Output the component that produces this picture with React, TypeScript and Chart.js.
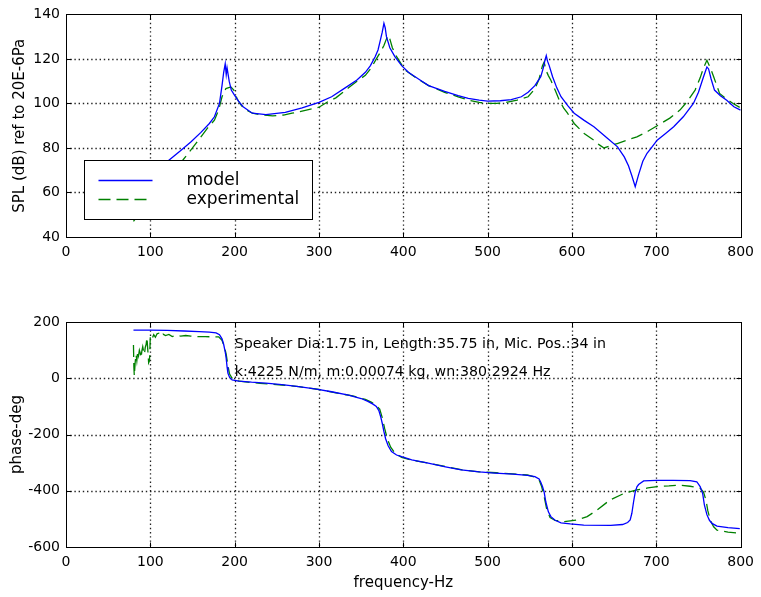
import React, { useEffect, useRef } from "react";
import { Chart, registerables } from "chart.js";

Chart.register(...registerables);

// ---------- data ----------
const xTicks = [0, 100, 200, 300, 400, 500, 600, 700, 800];
const splTicks = [40, 60, 80, 100, 120, 140];
const phaseTicks = [-600, -400, -200, 0, 200];

const modelSplFreq = [80, 90, 100, 110, 122, 135, 148, 160, 170, 176, 182, 185, 187, 188.8, 190, 191, 193.5, 196, 199.4, 204.5, 210, 221, 237, 260, 280, 300, 315, 331, 345, 355, 361, 366.6, 370, 372.5, 375, 377, 378.5, 380, 384, 390, 398, 406, 418, 430, 449, 465, 477, 490, 500, 515, 528, 540, 548, 556, 563, 566, 568, 569.5, 571, 573, 577, 582, 587, 595, 602.6, 614, 626, 642, 654, 662, 667, 671, 675, 679, 684, 689, 695, 701, 711, 720.6, 732, 744, 750, 756, 760, 762, 765, 769, 776, 783.5, 792, 800];
const modelSpl = [58, 62, 66, 70, 74.5, 78.5, 82.7, 87, 91, 94, 100, 108, 114, 117.8, 113, 116, 110, 106, 104, 101, 98.5, 95.6, 95, 96, 98, 100.5, 103, 107, 110.5, 114, 117, 121, 124, 128, 132, 136, 134, 130, 125, 121, 117, 114, 111, 108, 105.4, 103.5, 102.3, 101.5, 101, 101.2, 101.7, 103, 105, 108, 112, 116, 119.5, 121.5, 119, 117, 112, 107, 103, 99, 95.6, 92.5, 89.5, 84.4, 80.5, 76, 72, 67.5, 62.6, 68, 74, 77.6, 80.5, 83.5, 86.5, 89.5, 94, 100, 105, 112, 116.4, 115.5, 111, 106, 103.5, 101.4, 98.5, 97];

const expSplFreq = [80, 90, 100, 110, 122, 138.4, 150, 160, 168, 176, 181, 185, 189.6, 195.5, 199, 203, 208, 214, 221, 233, 245, 258, 268, 285, 300, 311.5, 320, 335, 345, 355, 362, 368, 372, 377, 380, 382, 384, 387, 392, 402, 415, 430, 449, 465, 477, 490, 500, 510, 520, 535, 548, 556, 561, 565, 567, 569, 572, 575, 580, 585, 590, 594.7, 602.6, 614, 626, 632, 638, 644, 653.7, 665, 677, 690, 701, 716, 728, 737, 746, 752, 756, 760, 764, 768, 775, 783, 791, 800];
const expSpl = [47, 52, 57, 62, 68, 74.5, 80, 85, 89, 92.5, 97, 103, 106.7, 107.4, 106, 102, 99, 97, 95.6, 94.8, 94.4, 94.8, 95.6, 97, 98.3, 101, 102.5, 107, 110, 112.6, 116, 120, 122.5, 126, 129, 130.6, 129, 125, 121, 115, 111.5, 108, 105, 103, 101.5, 100.5, 100, 100, 100.3, 101.5, 103, 106.5, 111, 117, 118.6, 115, 112.5, 110.4, 106, 101.4, 98, 95.6, 91, 86.6, 83.5, 81.5, 80, 80.8, 82, 83.5, 85, 87.5, 90, 93.4, 97, 101, 106, 111.5, 116, 119.4, 116, 112, 104.5, 102, 100, 98];

const modelPhaseFreq = [80, 100, 120, 140, 158, 170, 178, 182, 185, 187, 189, 190, 191, 192, 194, 197, 205, 220, 237, 256, 276, 295, 315, 335, 350, 358, 364, 368, 371, 373, 375, 377, 379, 382, 386, 392, 398, 410, 429.5, 450, 468.6, 490, 508.6, 530, 547.5, 556, 561, 563, 565, 567, 569, 572, 575, 580, 587, 598, 614, 646, 660, 666, 669, 671, 673, 675, 677, 679, 685, 700, 720, 740, 748, 752, 755, 757, 760, 763, 766, 772, 785, 799];
const modelPhase = [171, 171, 170, 168, 166, 164, 161, 155, 140, 120, 90, 70, 40, 18, 3, -6, -10, -14, -17, -23, -30, -38, -48, -60, -72, -82, -92, -100, -115, -135, -160, -190, -215, -240, -261, -273, -279, -290, -302, -315, -326, -333, -337, -341, -345, -350, -358, -370, -385, -405, -440, -475, -492, -505, -514, -518, -522, -523, -520, -513, -504, -480, -440, -405, -386, -378, -365, -363, -363, -364, -368, -385, -410, -450, -485, -505, -516, -526, -531, -535];

const expPhaseFreq = [80, 80.5, 81, 82, 83, 84, 85, 86, 87, 88, 89, 90, 91, 92, 93, 94, 95, 96, 97, 98, 99, 100, 102, 104, 106, 108, 110, 112, 115, 118, 122, 126, 130, 136, 142, 148, 156, 165, 175, 181, 185, 188, 190, 192, 194, 197, 200, 210, 230, 256, 276, 300, 320, 340, 355, 362, 368, 372, 375, 378, 381, 385, 390, 398, 410, 430, 450, 470, 490, 510, 530, 547, 556, 561, 564, 567, 570, 574, 580, 591, 606, 618, 630, 645, 662, 677, 690, 701, 715, 728, 740, 752, 756, 759, 761, 764, 768, 772, 785, 799];
const expPhase = [118, 40, 8, 55, 85, 62, 95, 80, 100, 90, 72, 98, 112, 95, 85, 110, 120, 145, 100, 55, 62, 150, 140, 155, 146, 158, 160, 150, 157, 152, 156, 148, 152, 150, 152, 150, 148, 148, 147, 147, 135, 110, 85, 45, 15, 0, -8, -12, -18, -24, -30, -40, -52, -63, -75, -85, -97, -110, -140, -180, -215, -245, -266, -281, -291, -302, -314, -326, -333, -336, -340, -344, -351, -362, -385, -420, -465, -495, -505, -510, -504, -492, -468, -433, -409, -397, -390, -385, -383, -380, -384, -391, -405, -435, -470, -505, -528, -540, -547, -551];

const seriesNames = ["model", "experimental"];
const noteLines = [
  "Speaker Dia:1.75 in, Length:35.75 in, Mic. Pos.:34 in",
  "k:4225 N/m, m:0.00074 kg, wn:380:2924 Hz",
];
const noteX = [200, 200];
const noteY = [106, 9];

// ---------- styles ----------
const FONT = '"DejaVu Sans", "Liberation Sans", sans-serif';
const BLUE = "#0000ff";
const GREEN = "#008000";
const DASH = [12, 6];

const toPoints = (xs: number[], ys: number[]) => xs.map((x, i) => ({ x, y: ys[i] }));

const framePlugin = {
  id: "matlabFrame",
  beforeDatasetsDraw(chart: any) {
    const { ctx, chartArea: a, scales } = chart;
    const xs = scales.x;
    const ys = scales.y;
    ctx.save();
    ctx.strokeStyle = "#222";
    ctx.lineWidth = 1.3;
    ctx.setLineDash([1.4, 2.8]);
    for (const t of xs.ticks) {
      if (t.value <= xs.min || t.value >= xs.max) continue;
      const px = Math.round(xs.getPixelForValue(t.value)) + 0.5;
      ctx.beginPath();
      ctx.moveTo(px, a.top);
      ctx.lineTo(px, a.bottom);
      ctx.stroke();
    }
    for (const t of ys.ticks) {
      if (t.value <= ys.min || t.value >= ys.max) continue;
      const py = Math.round(ys.getPixelForValue(t.value)) + 0.5;
      ctx.beginPath();
      ctx.moveTo(a.left, py);
      ctx.lineTo(a.right, py);
      ctx.stroke();
    }
    ctx.restore();
  },
  afterDatasetsDraw(chart: any) {
    const { ctx, chartArea: a, scales } = chart;
    const xs = scales.x;
    const ys = scales.y;
    const L = Math.round(a.left) + 0.5;
    const R = Math.round(a.right) + 0.5;
    const T = Math.round(a.top) + 0.5;
    const B = Math.round(a.bottom) + 0.5;
    ctx.save();
    ctx.strokeStyle = "#000";
    ctx.lineWidth = 1;
    ctx.setLineDash([]);
    ctx.strokeRect(L, T, R - L, B - T);
    const tl = 5;
    ctx.beginPath();
    for (const t of xs.ticks) {
      const px = Math.round(xs.getPixelForValue(t.value)) + 0.5;
      ctx.moveTo(px, B);
      ctx.lineTo(px, B - tl);
      ctx.moveTo(px, T);
      ctx.lineTo(px, T + tl);
    }
    for (const t of ys.ticks) {
      const py = Math.round(ys.getPixelForValue(t.value)) + 0.5;
      ctx.moveTo(L, py);
      ctx.lineTo(L + tl, py);
      ctx.moveTo(R, py);
      ctx.lineTo(R - tl, py);
    }
    ctx.stroke();

    const opts = chart.options.plugins.matlabFrame || {};
    if (opts.legend) {
      const bx = Math.round(a.left) + 18.5;
      const by = Math.round(a.top) + 146.5;
      const bw = 228;
      const bh = 59;
      ctx.fillStyle = "#fff";
      ctx.fillRect(bx, by, bw, bh);
      ctx.strokeStyle = "#000";
      ctx.lineWidth = 1;
      ctx.strokeRect(bx, by, bw, bh);
      const ds = chart.data.datasets;
      const rows = [20, 39];
      ds.forEach((d: any, i: number) => {
        const y = by + rows[i];
        ctx.strokeStyle = d.borderColor;
        ctx.lineWidth = 1.3;
        ctx.setLineDash(d.borderDash || []);
        ctx.beginPath();
        ctx.moveTo(bx + 14, y);
        ctx.lineTo(bx + 68, y);
        ctx.stroke();
        ctx.setLineDash([]);
        ctx.fillStyle = "#000";
        ctx.font = `17px ${FONT}`;
        ctx.textAlign = "left";
        ctx.textBaseline = "middle";
        ctx.fillText(d.label, bx + 102, y);
      });
    }
    if (opts.notes) {
      ctx.fillStyle = "#000";
      ctx.font = `14.2px ${FONT}`;
      ctx.textAlign = "left";
      ctx.textBaseline = "alphabetic";
      noteLines.forEach((s, i) => {
        ctx.fillText(s, xs.getPixelForValue(noteX[i]), ys.getPixelForValue(noteY[i]));
      });
    }
    ctx.restore();
  },
};

function makeConfig(opts: {
  modelPts: { x: number; y: number }[];
  expPts: { x: number; y: number }[];
  yMin: number;
  yMax: number;
  yTicks: number[];
  yTitle: string;
  yTitlePad: number;
  xTitle?: string;
  xAxisHeight: number;
  padTop: number;
  legend?: boolean;
  notes?: boolean;
}): any {
  return {
    type: "line",
    data: {
      datasets: [
        {
          label: seriesNames[0],
          data: opts.modelPts,
          borderColor: BLUE,
          borderWidth: 1.3,
          pointRadius: 0,
          tension: 0,
          fill: false,
        },
        {
          label: seriesNames[1],
          data: opts.expPts,
          borderColor: GREEN,
          borderWidth: 1.3,
          borderDash: DASH,
          pointRadius: 0,
          tension: 0,
          fill: false,
        },
      ],
    },
    options: {
      responsive: false,
      animation: false,
      events: [],
      layout: { padding: { top: opts.padTop, right: 17, bottom: 0, left: 0 } },
      plugins: {
        legend: { display: false },
        tooltip: { enabled: false },
        title: { display: false },
        matlabFrame: { legend: !!opts.legend, notes: !!opts.notes },
      },
      scales: {
        x: {
          type: "linear",
          min: xTicks[0],
          max: xTicks[xTicks.length - 1],
          afterBuildTicks: (s: any) => {
            s.ticks = xTicks.map((v) => ({ value: v }));
          },
          afterFit: (s: any) => {
            s.height = opts.xAxisHeight;
          },
          ticks: {
            color: "#000",
            font: { family: FONT, size: 14 },
            padding: 7,
            maxRotation: 0,
            autoSkip: false,
            callback: (v: any) => String(v),
          },
          grid: { display: false, drawTicks: false },
          border: { display: false },
          title: opts.xTitle
            ? {
                display: true,
                text: opts.xTitle,
                color: "#000",
                font: { family: FONT, size: 15 },
                padding: { top: 0, bottom: 5 },
              }
            : { display: false },
        },
        y: {
          type: "linear",
          min: opts.yMin,
          max: opts.yMax,
          afterBuildTicks: (s: any) => {
            s.ticks = opts.yTicks.map((v) => ({ value: v }));
          },
          afterFit: (s: any) => {
            s.width = 66;
          },
          ticks: {
            color: "#000",
            font: { family: FONT, size: 14 },
            padding: 6,
            autoSkip: false,
            callback: (v: any) => String(v),
          },
          grid: { display: false, drawTicks: false },
          border: { display: false },
          title: {
            display: true,
            text: opts.yTitle,
            color: "#000",
            font: { family: FONT, size: 15 },
            padding: { top: opts.yTitlePad, bottom: 0 },
          },
        },
      },
    },
    plugins: [framePlugin],
  };
}

export default function App() {
  const topRef = useRef<HTMLCanvasElement | null>(null);
  const botRef = useRef<HTMLCanvasElement | null>(null);

  useEffect(() => {
    const c1 = new Chart(
      topRef.current as HTMLCanvasElement,
      makeConfig({
        modelPts: toPoints(modelSplFreq, modelSpl),
        expPts: toPoints(expSplFreq, expSpl),
        yMin: splTicks[0],
        yMax: splTicks[splTicks.length - 1],
        yTicks: splTicks,
        yTitle: "SPL (dB) ref to 20E-6Pa",
        yTitlePad: 11,
        xAxisHeight: 53,
        padTop: 14,
        legend: true,
      })
    );
    const c2 = new Chart(
      botRef.current as HTMLCanvasElement,
      makeConfig({
        modelPts: toPoints(modelPhaseFreq, modelPhase),
        expPts: toPoints(expPhaseFreq, expPhase),
        yMin: phaseTicks[0],
        yMax: phaseTicks[phaseTicks.length - 1],
        yTicks: phaseTicks,
        yTitle: "phase-deg",
        yTitlePad: 8,
        xTitle: "frequency-Hz",
        xAxisHeight: 50,
        padTop: 32,
        notes: true,
      })
    );
    return () => {
      c1.destroy();
      c2.destroy();
    };
  }, []);

  return (
    <div
      style={{
        position: "absolute",
        left: 0,
        top: 0,
        width: 761,
        height: 597,
        background: "#fff",
      }}
    >
      <canvas
        ref={topRef}
        width={761}
        height={290}
        style={{ position: "absolute", left: 0, top: 0, width: 761, height: 290 }}
      />
      <canvas
        ref={botRef}
        width={761}
        height={307}
        style={{ position: "absolute", left: 0, top: 290, width: 761, height: 307 }}
      />
    </div>
  );
}
